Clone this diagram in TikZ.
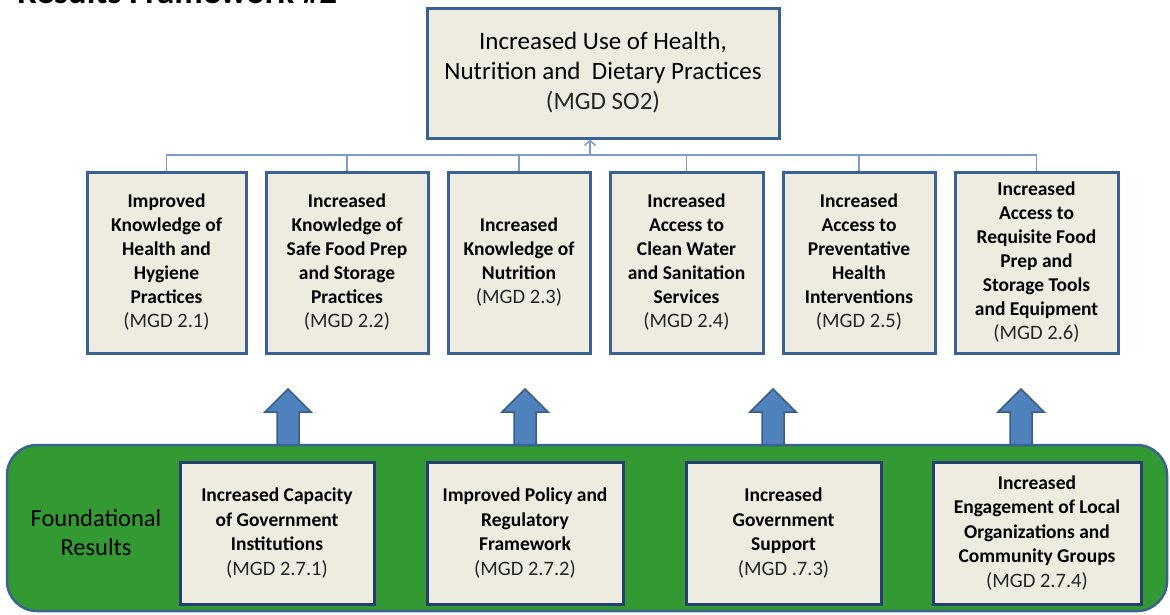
\documentclass[tikz,border=0pt]{standalone}
\usepackage{fontspec}
\setmainfont{Carlito}
\usetikzlibrary{arrows.meta}
\definecolor{boxfill}{HTML}{EEECE1}
\definecolor{boxline}{HTML}{3A6193}
\definecolor{botline}{HTML}{243F70}
\definecolor{conn}{HTML}{7C9CCB}
\definecolor{arrfill}{HTML}{4F81BD}
\definecolor{arrline}{HTML}{385D8A}
\definecolor{band}{HTML}{339933}
\definecolor{bandline}{HTML}{3B6391}
\definecolor{mgdcol}{HTML}{262626}
\newcommand\mgdline[1]{\mdseries\fontsize{20.5}{24}\selectfont\color{mgdcol}(MGD #1)}
\begin{document}
\begin{tikzpicture}[x=1pt,y=-1pt,
  goalbox/.style={draw=boxline, line width=3pt, fill=boxfill, align=center, inner sep=0pt,
    font=\fontsize{25}{30}\selectfont},
  irbox/.style={draw=boxline, line width=3pt, fill=boxfill, align=center, inner sep=0pt,
    minimum height=181pt, font=\fontsize{19.5}{24}\selectfont\bfseries},
  frbox/.style={draw=botline, line width=3pt, fill=boxfill, align=center, inner sep=0pt,
    minimum height=142pt, font=\fontsize{19.5}{24.5}\selectfont\bfseries},
  connline/.style={draw=conn, line width=1.5pt},
  blockarrow/.style={fill=arrfill, draw=arrline, line width=1.5pt, line join=miter},
  bandstyle/.style={fill=band, draw=bandline, line width=2.5pt, rounded corners=30pt},
  titletext/.style={font=\fontsize{35}{40}\selectfont\bfseries, inner sep=0pt},
  foundtext/.style={font=\fontsize{24.5}{29}\selectfont, align=center, inner sep=0pt}
]
\useasboundingbox (0,0) rectangle (1170,614);
\clip (0,0) rectangle (1170,614);

% title (cut off at top edge, as in the reference)
\node[titletext, anchor=base west] (title) at (17,3) {Results Framework \#2};

% goal
\node[goalbox, minimum width=352pt, minimum height=130pt] (goal) at (603,73)
  {Increased Use of Health,\\Nutrition and\ \ Dietary Practices\\\color{mgdcol}(MGD SO2)};

% intermediate results
\node[irbox, minimum width=159pt] (b1) at (166.5,262.5)
  {Improved\\Knowledge of\\Health and\\Hygiene\\Practices\\\mgdline{2.1}};
\node[irbox, minimum width=162pt] (b2) at (347,262.5)
  {Increased\\Knowledge of\\Safe Food Prep\\and Storage\\Practices\\\mgdline{2.2}};
\node[irbox, minimum width=142pt] (b3) at (519,262.5)
  {Increased\\Knowledge of\\Nutrition\\\mgdline{2.3}};
\node[irbox, minimum width=153pt] (b4) at (686.5,262.5)
  {Increased\\Access to\\Clean Water\\and Sanitation\\Services\\\mgdline{2.4}};
\node[irbox, minimum width=152pt] (b5) at (859,262.5)
  {Increased\\Access to\\Preventative\\Health\\Interventions\\\mgdline{2.5}};
\node[irbox, minimum width=163pt] (b6) at (1036.5,262.5)
  {Increased\\Access to\\Requisite Food\\Prep and\\Storage Tools\\and Equipment\\\mgdline{2.6}};

% connectors
\coordinate (bus) at (0,155);
\coordinate (tap) at (590,155);
\draw[connline] (b1.north) -- (b1.north |- bus) -- (b6.north |- bus) -- (b6.north);
\foreach \b in {b2,b3,b4,b5}{
  \draw[connline] (\b.north) -- (\b.north |- bus);
}
\draw[connline, -{Straight Barb[length=5pt,width=11pt,line width=1.5pt]}] (tap) -- (tap |- goal.south);

% block arrows
\foreach \cx in {288,525,773,1021}{
  \draw[blockarrow] (\cx,389) -- ({\cx+23},412) -- ({\cx+11},412) -- ({\cx+11},447)
    -- ({\cx-11},447) -- ({\cx-11},412) -- ({\cx-23},412) -- cycle;
}

% foundational band
\path[bandstyle] (7,445) rectangle (1167,611);
\node[foundtext] (found) at (96,533) {Foundational\\Results};

\node[frbox, minimum width=194pt] (f1) at (277,533)
  {Increased Capacity\\of Government\\Institutions\\\mgdline{2.7.1}};
\node[frbox, minimum width=196pt] (f2) at (525,533)
  {Improved Policy and\\Regulatory\\Framework\\\mgdline{2.7.2}};
\node[frbox, minimum width=195pt] (f3) at (783.5,533)
  {Increased\\Government\\Support\\\mgdline{.7.3}};
\node[frbox, minimum width=208pt] (f4) at (1037,533)
  {Increased\\Engagement of Local\\Organizations and\\Community Groups\\\mgdline{2.7.4}};
\end{tikzpicture}
\end{document}
